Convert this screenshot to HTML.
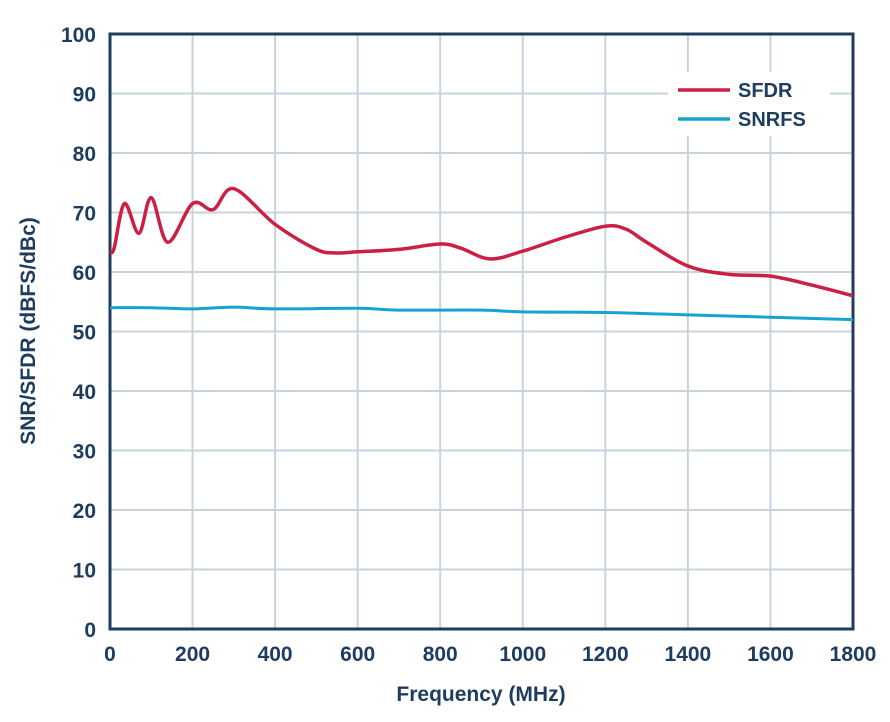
<!DOCTYPE html>
<html><head><meta charset="utf-8"><style>
body{margin:0;background:#fff;width:890px;height:717px;overflow:hidden}
text{font-family:"Liberation Sans",Arial,sans-serif;font-weight:bold;fill:#1d3c5e}
</style></head><body>
<svg id="c" width="890" height="717"></svg>
<script>
const xTicks=[0,200,400,600,800,1000,1200,1400,1600,1800];
const yTicks=[0,10,20,30,40,50,60,70,80,90,100];
const sfdrFreq=[0,10,35,70,100,140,200,250,300,400,500,550,600,700,800,850,920,1000,1100,1200,1250,1300,1400,1500,1600,1700,1800];
const sfdrVals=[63.5,64,71.5,66.5,72.5,65,71.5,70.5,74,68,63.8,63.2,63.4,63.8,64.7,64,62.2,63.5,65.8,67.7,67.2,65,61,59.6,59.3,57.8,56];
const snrFreq=[0,100,200,300,400,600,700,900,1000,1200,1400,1600,1800];
const snrVals=[54,54,53.8,54.1,53.8,53.9,53.6,53.6,53.3,53.2,52.8,52.4,52];
const L=110,R=853,T=34,B=629;
const sx=v=>L+(v-0)/1800*(R-L), sy=v=>B-v/100*(B-T);
const NS="http://www.w3.org/2000/svg", svg=document.getElementById('c');
function mk(t,a,txt){const e=document.createElementNS(NS,t);for(const k in a)e.setAttribute(k,a[k]);if(txt!=null)e.textContent=txt;svg.appendChild(e);return e;}
xTicks.forEach(v=>{if(v>0&&v<1800){const g=mk('line',{x1:sx(v),x2:sx(v),y1:T,y2:B,stroke:'#c9d3de','stroke-width':2});

}
const t=mk('text',{x:sx(v),y:661,'text-anchor':'middle','font-size':21},v);

});
yTicks.forEach(v=>{if(v>0&&v<100){const g=mk('line',{x1:L,x2:R,y1:sy(v),y2:sy(v),stroke:'#c9d3de','stroke-width':2});

}
const t=mk('text',{x:96,y:sy(v)+8,'text-anchor':'end','font-size':21},v);

});
const fr=mk('rect',{x:L,y:T,width:R-L,height:B-T,fill:'none',stroke:'#1d3c5e','stroke-width':3});


function path(xs,ys){const p=xs.map((x,i)=>[sx(x),sy(ys[i])]);let d='M'+p[0];for(let i=0;i<p.length-1;i++){const a=p[i-1]||p[i],b=p[i],c=p[i+1],e=p[i+2]||c;
d+=' C'+(b[0]+(c[0]-a[0])/6)+','+(b[1]+(c[1]-a[1])/6)+' '+(c[0]-(e[0]-b[0])/6)+','+(c[1]-(e[1]-b[1])/6)+' '+c[0]+','+c[1];}return d;}
const s2=mk('path',{d:path(snrFreq,snrVals),fill:'none',stroke:'#16a3cf','stroke-width':3});


const s1=mk('path',{d:path(sfdrFreq,sfdrVals),fill:'none',stroke:'#cc1f44','stroke-width':3.5});


const lb=mk('rect',{x:668,y:72,width:162,height:64,fill:'#fff'});


[['SFDR','#cc1f44',90],['SNRFS','#16a3cf',119]].forEach(([n,c,y])=>{
const l=mk('line',{x1:678,x2:730,y1:y,y2:y,stroke:c,'stroke-width':3.5});


const t=mk('text',{x:738,y:y+7,'font-size':20},n);

});
const xt=mk('text',{x:481,y:701,'text-anchor':'middle','font-size':21},'Frequency (MHz)');


const yt=mk('text',{x:0,y:0,'text-anchor':'middle','font-size':21,transform:'translate(35,331) rotate(-90)'},'SNR/SFDR (dBFS/dBc)');


</script>
</body></html>
